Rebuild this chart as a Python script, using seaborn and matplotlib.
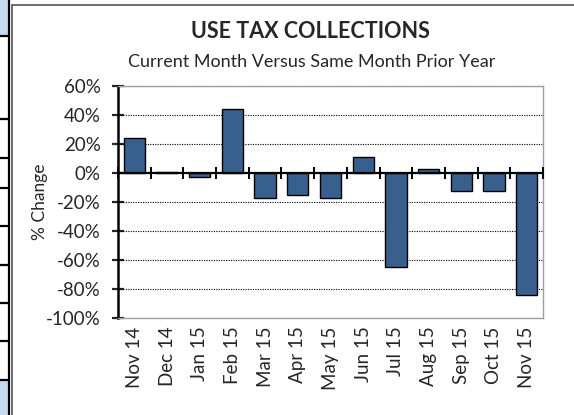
import numpy as np
import pandas as pd
import matplotlib
matplotlib.use('Agg')
import matplotlib.pyplot as plt
import seaborn as sns
from matplotlib.patches import Rectangle
from matplotlib.lines import Line2D

# monthly % change, current month vs same month prior year
months = ['Nov 14', 'Dec 14', 'Jan 15', 'Feb 15', 'Mar 15', 'Apr 15', 'May 15',
          'Jun 15', 'Jul 15', 'Aug 15', 'Sep 15', 'Oct 15', 'Nov 15']
pct_change = [24, 1, -2.5, 44, -17, -15.5, -17, 11, -65, 3, -12.5, -12.5, -84]
y_ticks = [-100, -80, -60, -40, -20, 0, 20, 40, 60]

df = pd.DataFrame({'Month': months, 'Change': pct_change})

sns.set_style('white')
plt.rcParams['font.family'] = ['Lato', 'DejaVu Sans']

W, H = 574, 415
fig = plt.figure(figsize=(W / 100, H / 100), dpi=100)

def px(x0, y0, x1, y1):
    # pixel box -> figure fraction rect
    return [x0 / W, 1 - y1 / H, (x1 - x0) / W, (y1 - y0) / H]

# bit of neighbouring table on the left edge
for y0, y1 in [(0, 35), (380, 415)]:
    r = px(0, y0, 8, y1)
    fig.patches.append(Rectangle((r[0], r[1]), r[2], r[3], transform=fig.transFigure,
                                 facecolor='#c5d9f1', edgecolor='none'))
for yy in [36, 119, 158, 188, 226, 265, 303, 341, 380]:
    fig.add_artist(Line2D([0, 8 / W], [1 - yy / H] * 2, color='black', lw=1.6,
                          transform=fig.transFigure))
fig.add_artist(Line2D([8.5 / W] * 2, [0, 1], color='black', lw=1.6, transform=fig.transFigure))
# chart frame
fig.add_artist(Line2D([12 / W] * 2, [0, 1 - 5 / H], color='#555555', lw=1.2, transform=fig.transFigure))
fig.add_artist(Line2D([12 / W, 1], [1 - 5 / H] * 2, color='#555555', lw=1.2, transform=fig.transFigure))

ax = fig.add_axes(px(118, 86, 543, 318))
sns.barplot(data=df, x='Month', y='Change', color='#37608f', saturation=1,
            edgecolor='black', linewidth=1, width=0.65, ax=ax, zorder=3)

ax.set_ylim(-100, 60)
ax.set_xlim(-0.5, len(months) - 0.5)
ax.set_yticks(y_ticks)
ax.set_yticklabels([f'{t}%' for t in y_ticks], fontsize=13.5)
for t in y_ticks:
    if t != 0:
        ax.axhline(t, color='black', lw=0.8, ls=(0, (1, 1.2)), zorder=1)
ax.axhline(0, color='black', lw=1.6, zorder=4)
# category separators on the zero line
ax.vlines(np.arange(len(months) + 1) - 0.5, -4.2, 4.2, color='black', lw=1.4, zorder=5,
          clip_on=False)

for side in ['top', 'right', 'bottom']:
    ax.spines[side].set_color('#a0a0a0')
    ax.spines[side].set_linewidth(1)
ax.spines['left'].set_color('black')
ax.spines['left'].set_linewidth(1.8)
ax.tick_params(axis='y', direction='inout', length=9, width=1.6, pad=8, left=True)
ax.tick_params(axis='x', length=0, pad=6)
plt.setp(ax.get_xticklabels(), rotation=90, fontsize=13.5)
ax.set_xlabel('')
ax.set_ylabel('% Change', fontsize=12.5)
ax.yaxis.set_label_coords(-0.165, 0.5)

fig.text(310 / W, 1 - 32 / H, 'USE TAX COLLECTIONS', ha='center', va='center',
         fontsize=15.5, fontweight='bold')
fig.text(312 / W, 1 - 62 / H, 'Current Month Versus Same Month Prior Year',
         ha='center', va='center', fontsize=13)

fig.savefig('out.png', dpi=100)
